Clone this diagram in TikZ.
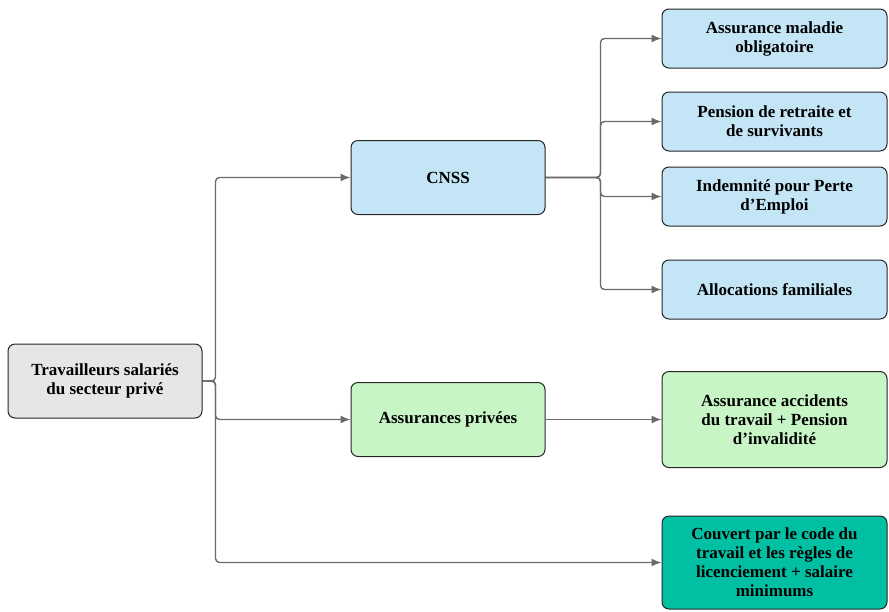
\documentclass[tikz,border=0pt]{standalone}
\usepackage{fontspec}
\setmainfont{Liberation Serif}
\usetikzlibrary{arrows.meta}
\pgfdeclarelayer{nodelayer}
\pgfdeclarelayer{edgelayer}
\pgfsetlayers{edgelayer,nodelayer,main}
\definecolor{srcgrey}{HTML}{E6E6E6}
\definecolor{cnssblue}{HTML}{C3E5F5}
\definecolor{privgreen}{HTML}{C8F5C6}
\definecolor{codeteal}{HTML}{00BFA3}
\definecolor{linegrey}{HTML}{6A6A6A}
\tikzset{box/.style={draw=black!85, line width=1pt, rounded corners=7pt, align=center,
  font=\fontsize{17}{19}\selectfont\bfseries, inner sep=2pt}}
\tikzset{wide/.style={minimum width=194, minimum height=74}}
\tikzset{leaf/.style={minimum width=225, minimum height=59}}
\tikzset{link/.style={draw=linegrey, line width=1.4pt, rounded corners=4pt,
  -{Latex[length=10pt,width=8pt]}}}
\begin{document}
\begin{tikzpicture}[x=1pt,y=-1pt]
        \useasboundingbox (0,0) rectangle (889,611);
        \begin{pgfonlayer}{nodelayer}
            \node [style=box, style=wide, fill=srcgrey] (0) at (105, 381) {Travailleurs salariés\\du secteur privé};
            \node [style=box, style=wide, fill=cnssblue] (1) at (448, 177.5) {CNSS};
            \node [style=box, style=wide, fill=privgreen] (2) at (448, 419.5) {Assurances privées};
            \node [style=box, style=leaf, fill=cnssblue] (3) at (774.5, 38.5) {Assurance maladie\\obligatoire};
            \node [style=box, style=leaf, fill=cnssblue] (4) at (774.5, 121.5) {Pension de retraite et\\de survivants};
            \node [style=box, style=leaf, fill=cnssblue] (5) at (774.5, 196.5) {Indemnité pour Perte\\d’Emploi};
            \node [style=box, style=leaf, fill=cnssblue] (6) at (774.5, 289.5) {Allocations familiales};
            \node [style=box, style=leaf, minimum height=96, fill=privgreen] (7) at (774.5, 419.5) {Assurance accidents\\du travail + Pension\\d’invalidité};
            \node [style=box, style=leaf, minimum height=93, fill=codeteal] (8) at (774.5, 562.5) {Couvert par le code du\\travail et les règles de\\licenciement + salaire\\minimums};
        \end{pgfonlayer}
        \begin{pgfonlayer}{edgelayer}
            \draw [style=link] (0.east) -- ++(13, 0) |- (1.west);
            \draw [style=link] (0.east) -- ++(13, 0) |- (2.west);
            \draw [style=link] (0.east) -- ++(13, 0) |- (8.west);
            \draw [style=link] (1.east) -- ++(55, 0) |- (3.west);
            \draw [style=link] (1.east) -- ++(55, 0) |- (4.west);
            \draw [style=link] (1.east) -- ++(55, 0) |- (5.west);
            \draw [style=link] (1.east) -- ++(55, 0) |- (6.west);
            \draw [style=link] (2) to (7);
        \end{pgfonlayer}
\end{tikzpicture}
\end{document}
